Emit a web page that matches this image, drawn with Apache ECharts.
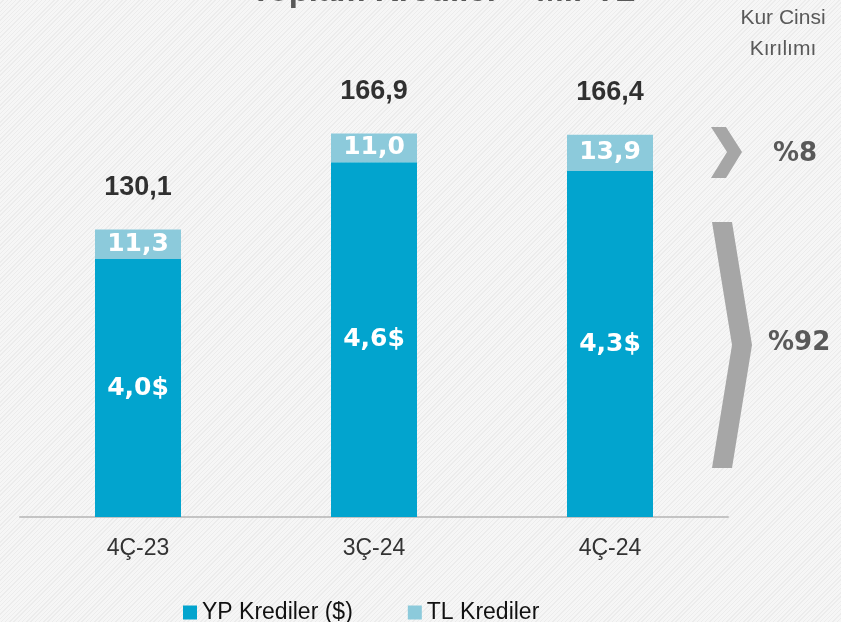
<!DOCTYPE html>
<html>
<head>
<meta charset="utf-8">
<title>Toplam Krediler</title>
<script src="https://cdn.jsdelivr.net/npm/echarts@6.0.0/dist/echarts.min.js"></script>
<style>
  html, body { margin: 0; padding: 0; }
  body {
    background: repeating-linear-gradient(135deg, #f6f6f6 0px, #f6f6f6 2px, #ececec 2px, #ececec 3px);
  }
  #chart { width: 841px; height: 622px; }
</style>
</head>
<body>
<div id="chart"></div>
<script>
// data
var categories = ['4Ç-23', '3Ç-24', '4Ç-24'];
var totals = [130.1, 166.9, 166.4];
var tlValues = [11.3, 11.0, 13.9];
var ypValues = [118.8, 155.9, 152.5];     // total - TL
var ypUsdLabels = ['4,0$', '4,6$', '4,3$'];
var shareLabels = ['%8', '%92'];

var chart = echarts.init(document.getElementById('chart'));

var fmt = function (v) { return String(v.toFixed(1)).replace('.', ','); };

var option = {
  backgroundColor: 'transparent',
  animation: false,
  title: {
    text: 'Toplam Krediler – Mlr TL',
    left: 438,
    top: -30,
    textAlign: 'center',
    textStyle: { fontFamily: 'Liberation Sans', fontWeight: 'bold', fontSize: 33, color: '#595959' }
  },
  legend: {
    left: 178,
    top: 596,
    itemWidth: 14,
    itemHeight: 14,
    itemGap: 55,
    icon: 'rect',
    textStyle: { fontFamily: 'Liberation Sans', fontSize: 23, color: '#111' },
    data: ['YP Krediler ($)', 'TL Krediler']
  },
  grid: { left: 20, right: 113, top: 47, bottom: 105 },
  xAxis: {
    type: 'category',
    data: categories,
    axisTick: { show: false },
    axisLine: { lineStyle: { color: '#c4c4c4', width: 2 } },
    axisLabel: { margin: 20, fontFamily: 'Liberation Sans', fontSize: 23, color: '#333' }
  },
  yAxis: {
    type: 'value',
    min: 20,
    max: 200,
    show: false
  },
  series: [
    {
      name: 'YP Krediler ($)',
      type: 'bar',
      stack: 'k',
      barWidth: 86,
      itemStyle: { color: '#02a4ce' },
      data: ypValues,
      label: {
        show: true,
        position: 'inside',
        formatter: function (p) { return ypUsdLabels[p.dataIndex]; },
        fontFamily: 'DejaVu Sans',
        fontWeight: 'bold',
        fontSize: 25,
        color: '#fff'
      }
    },
    {
      name: 'TL Krediler',
      type: 'bar',
      stack: 'k',
      itemStyle: { color: '#8ccadb' },
      data: tlValues,
      label: {
        show: true,
        position: 'inside',
        formatter: function (p) { return fmt(p.value); },
        fontFamily: 'DejaVu Sans',
        fontWeight: 'bold',
        fontSize: 25,
        color: '#fff'
      }
    },
    {
      // totals above the bars
      name: 'Toplam',
      type: 'scatter',
      data: totals,
      symbolSize: 1,
      itemStyle: { color: 'rgba(0,0,0,0)' },
      silent: true,
      label: {
        show: true,
        position: 'top',
        distance: 28,
        formatter: function (p) { return fmt(p.value); },
        fontFamily: 'Liberation Sans',
        fontWeight: 'bold',
        fontSize: 27,
        color: '#000'
      }
    }
  ],
  graphic: [
    {
      type: 'text', x: 783, y: 3,
      style: { text: 'Kur Cinsi\nKırılımı', align: 'center', font: '21px "Liberation Sans"', fill: '#595959', lineHeight: 31 }
    },
    {
      type: 'polygon',
      shape: { points: [[711, 127], [726, 127], [742, 152], [726, 178], [711, 178], [727, 152]] },
      style: { fill: '#a6a6a6' }
    },
    {
      type: 'polygon',
      shape: { points: [[712, 222], [732, 222], [752, 345], [732, 468], [712, 468], [732, 345]] },
      style: { fill: '#a6a6a6' }
    },
    {
      type: 'text', x: 773, y: 141,
      style: { text: shareLabels[0], font: 'bold 26px "DejaVu Sans"', fill: '#595959' }
    },
    {
      type: 'text', x: 768, y: 330,
      style: { text: shareLabels[1], font: 'bold 26px "DejaVu Sans"', fill: '#595959' }
    }
  ]
};

chart.setOption(option);
</script>
</body>
</html>
